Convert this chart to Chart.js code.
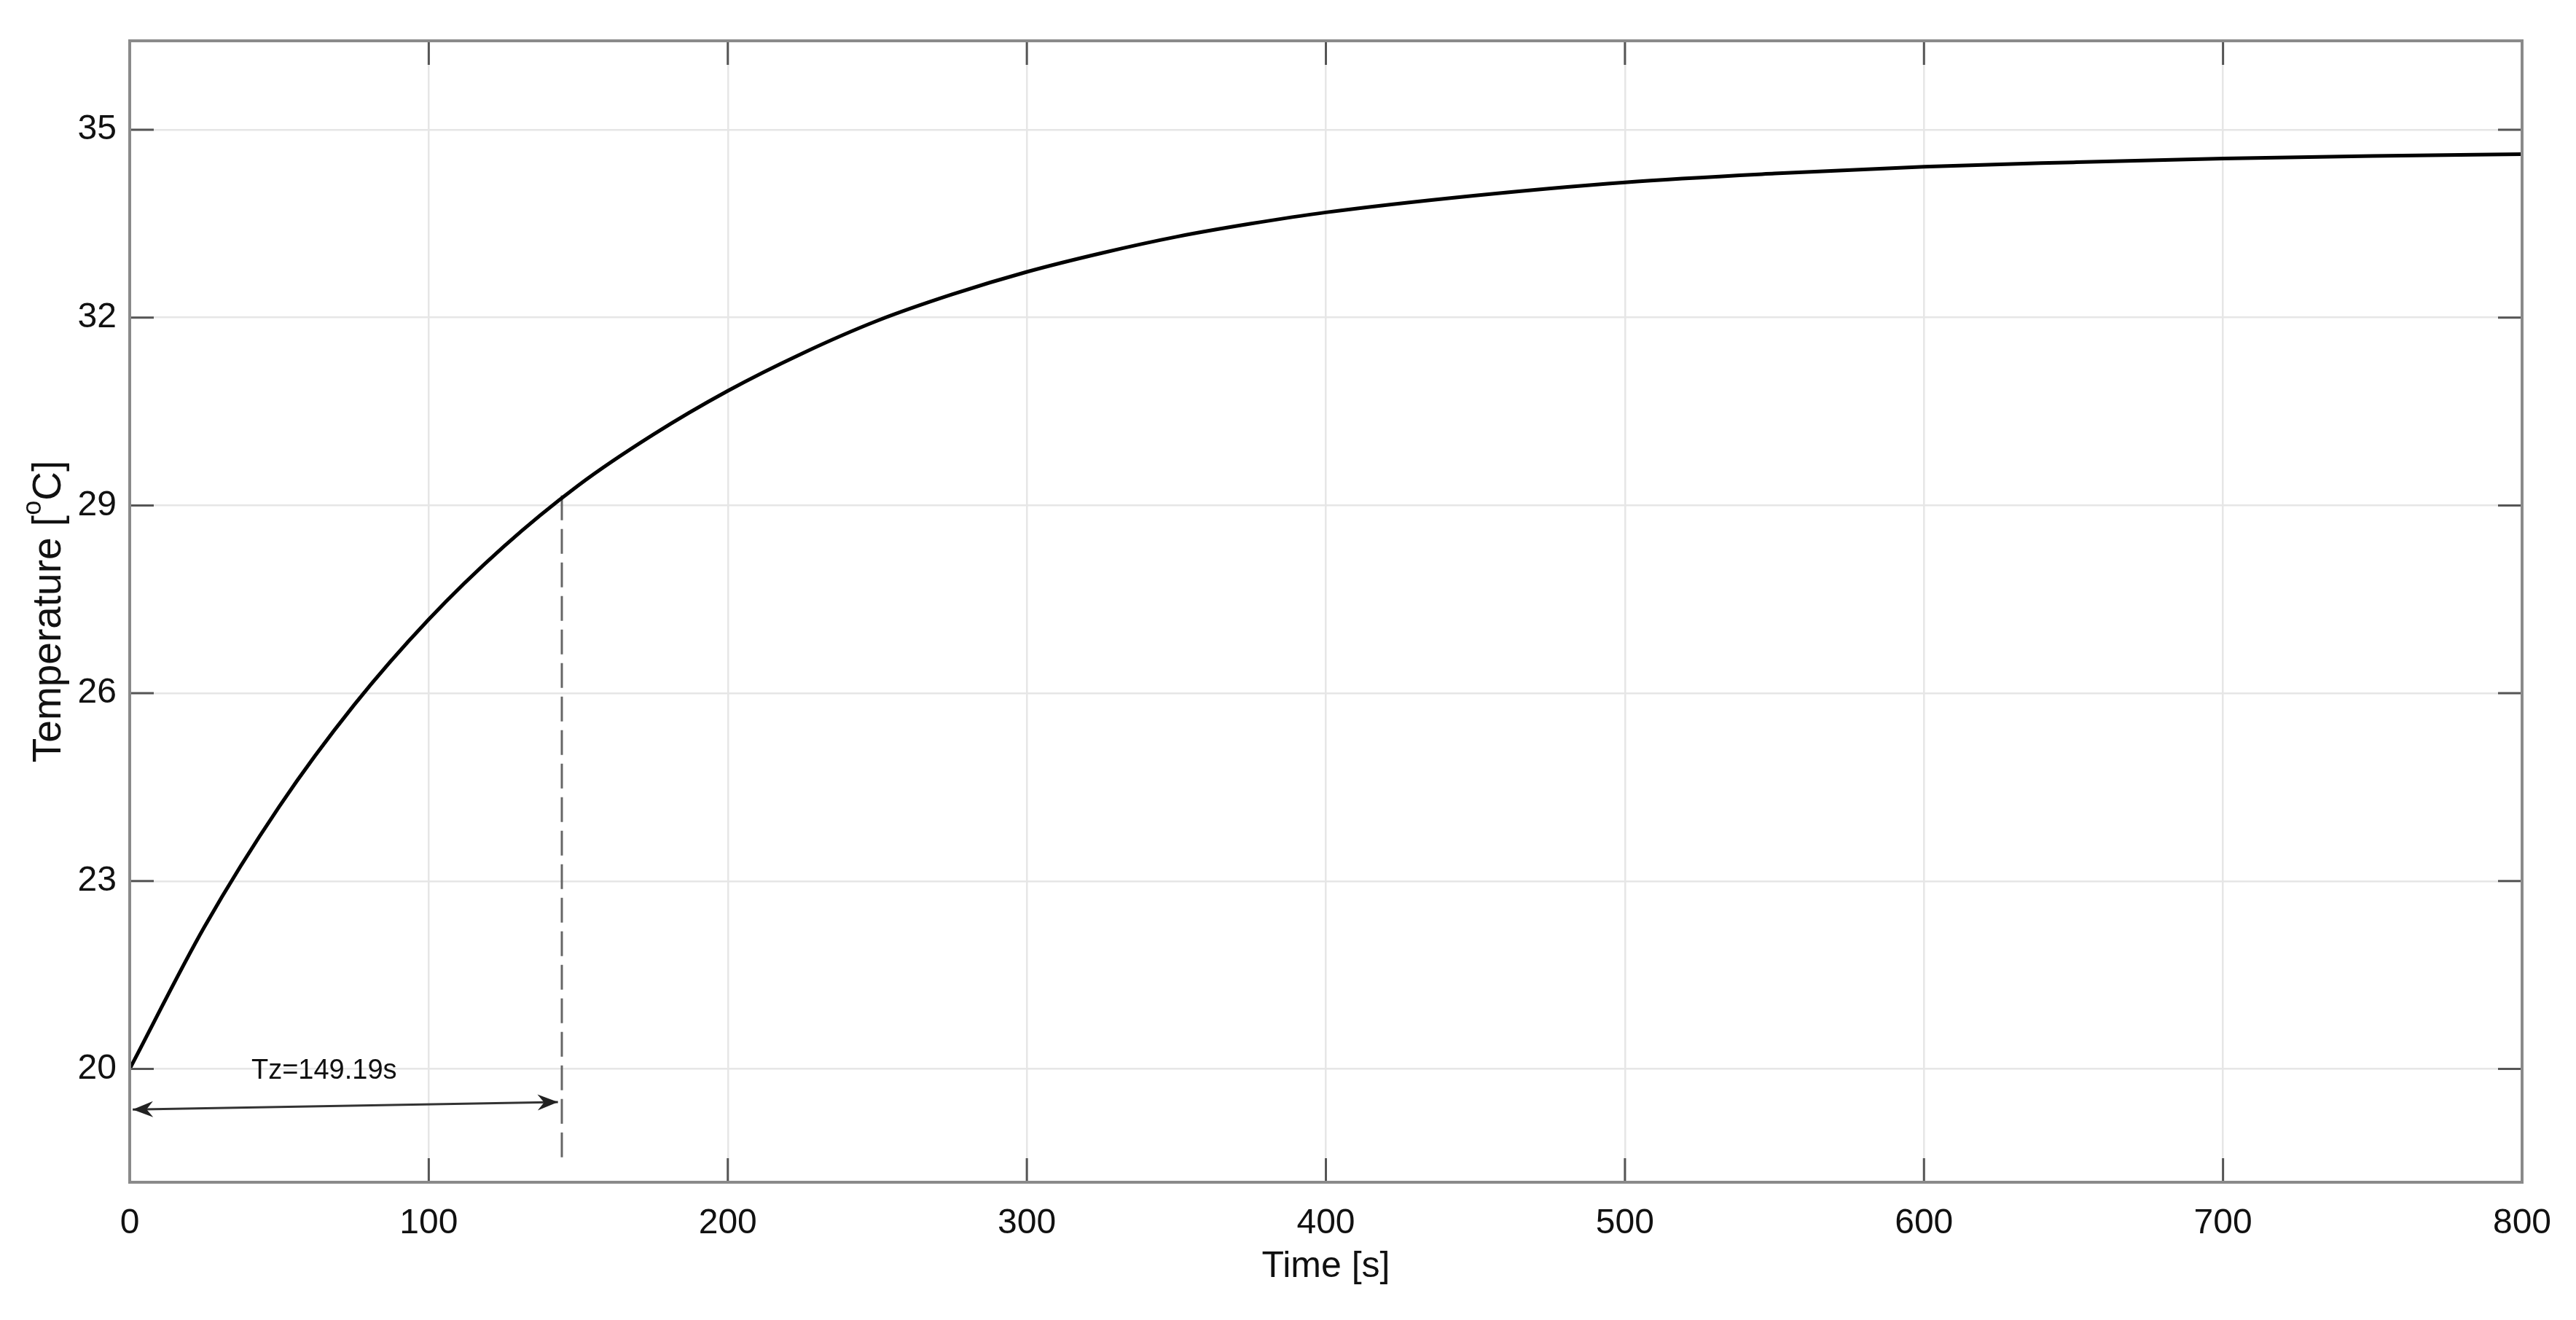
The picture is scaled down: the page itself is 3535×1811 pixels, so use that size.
<!DOCTYPE html>
<html>
<head>
<meta charset="utf-8">
<script src="https://cdn.jsdelivr.net/npm/chart.js@4.4.1/dist/chart.umd.min.js"></script>
<style>
html, body { margin: 0; padding: 0; background: #fff; }
canvas { display: block; }
</style>
</head>
<body>
<canvas id="tempChart" width="3535" height="1811"></canvas>
<script>
// values
var timeSec = [0, 25, 50, 75, 100, 125, 150, 175, 200, 225, 250, 275, 300, 325, 350, 375, 400, 450, 500, 550, 600, 650, 700, 750, 800];
var temperature = [20.0, 22.27, 24.19, 25.81, 27.18, 28.34, 29.32, 30.13, 30.83, 31.43, 31.95, 32.37, 32.73, 33.03, 33.29, 33.50, 33.68, 33.95, 34.16, 34.30, 34.41, 34.48, 34.54, 34.58, 34.61];

var xTicks = [0, 100, 200, 300, 400, 500, 600, 700, 800];
var yTicks = [20, 23, 26, 29, 32, 35];
var xRange = [0, 800];
var yRange = [18.19, 36.42];

// time-constant marker
var tzLineX = [144.5, 144.5];
var tzLineY = [18.59, 29.27];
var tzArrowX = [1, 143.2];
var tzArrowY = [19.35, 19.47];
var tzLabel = "Tz=149.19s";
var tzLabelX = 65;
var tzLabelY = 19.96;

var fontFamily = "'Liberation Sans', Arial, Helvetica, sans-serif";

function toPoints(xs, ys) {
    return xs.map(function(x, i) { return { x: x, y: ys[i] }; });
}

var matlabAxes = {
    id: "matlabAxes",
    afterDatasetsDraw: function(chart) {
        var ctx = chart.ctx;
        var area = chart.chartArea;
        var xs = chart.scales.x;
        var ys = chart.scales.y;
        ctx.save();

        // arrow heads on the Tz arrow
        var meta = chart.getDatasetMeta(2);
        var p0 = meta.data[0], p1 = meta.data[1];
        function head(tip, from) {
            var dx = tip.x - from.x, dy = tip.y - from.y;
            var len = Math.sqrt(dx * dx + dy * dy);
            dx /= len; dy /= len;
            var nx = -dy, ny = dx;
            var L = 28, W = 11, N = 9;
            ctx.beginPath();
            ctx.moveTo(tip.x, tip.y);
            ctx.lineTo(tip.x - dx * L + nx * W, tip.y - dy * L + ny * W);
            ctx.lineTo(tip.x - dx * (L - N), tip.y - dy * (L - N));
            ctx.lineTo(tip.x - dx * L - nx * W, tip.y - dy * L - ny * W);
            ctx.closePath();
            ctx.fillStyle = "#222";
            ctx.fill();
        }
        head(p0, p1);
        head(p1, p0);

        // annotation text
        ctx.fillStyle = "#111";
        ctx.font = "38px " + fontFamily;
        ctx.textAlign = "center";
        ctx.textBaseline = "middle";
        ctx.fillText(tzLabel, xs.getPixelForValue(tzLabelX), ys.getPixelForValue(tzLabelY));

        // inward tick marks
        ctx.strokeStyle = "#555";
        ctx.lineWidth = 3;
        var tl = 33;
        ctx.beginPath();
        yTicks.forEach(function(v) {
            var py = ys.getPixelForValue(v);
            ctx.moveTo(area.left, py); ctx.lineTo(area.left + tl, py);
            ctx.moveTo(area.right, py); ctx.lineTo(area.right - tl, py);
        });
        xTicks.forEach(function(v) {
            var px = xs.getPixelForValue(v);
            ctx.moveTo(px, area.bottom); ctx.lineTo(px, area.bottom - tl);
            ctx.moveTo(px, area.top); ctx.lineTo(px, area.top + tl);
        });
        ctx.stroke();

        // box
        ctx.strokeStyle = "#8a8a8a";
        ctx.lineWidth = 4;
        ctx.strokeRect(area.left, area.top, area.right - area.left, area.bottom - area.top);

        // x title
        ctx.fillStyle = "#111";
        ctx.font = "50px " + fontFamily;
        ctx.textAlign = "center";
        ctx.textBaseline = "middle";
        ctx.fillText("Time [s]", (area.left + area.right) / 2, area.bottom + 116);

        // y title with superscript o
        var big = "55px " + fontFamily, small = "36px " + fontFamily;
        var parts = [["Temperature [", big, 0], ["o", small, -22], ["C]", big, 0]];
        var total = 0;
        parts.forEach(function(p) { ctx.font = p[1]; total += ctx.measureText(p[0]).width; });
        ctx.translate(68, (area.top + area.bottom) / 2);
        ctx.rotate(-Math.PI / 2);
        ctx.textAlign = "left";
        var cx = -total / 2;
        parts.forEach(function(p) {
            ctx.font = p[1];
            ctx.fillText(p[0], cx, p[2]);
            cx += ctx.measureText(p[0]).width;
        });
        ctx.restore();
    }
};

var ctx1 = document.getElementById("tempChart").getContext("2d");
var myChart = new Chart(ctx1, {
    type: "line",
    data: {
        datasets: [
            {
                label: "Temperature",
                data: toPoints(timeSec, temperature),
                borderColor: "#000",
                borderWidth: 5,
                pointRadius: 0,
                cubicInterpolationMode: "monotone",
                fill: false
            },
            {
                label: "Tz line",
                data: toPoints(tzLineX, tzLineY),
                borderColor: "#666",
                borderWidth: 3,
                borderDash: [34, 12],
                pointRadius: 0,
                fill: false
            },
            {
                label: "Tz arrow",
                data: toPoints(tzArrowX, tzArrowY),
                borderColor: "#333",
                borderWidth: 3,
                pointRadius: 0,
                fill: false
            }
        ]
    },
    options: {
        responsive: false,
        devicePixelRatio: 1,
        animation: false,
        layout: { padding: { left: 0, top: 56, right: 74, bottom: 0 } },
        plugins: {
            legend: { display: false },
            tooltip: { enabled: false }
        },
        scales: {
            x: {
                type: "linear",
                min: xRange[0],
                max: xRange[1],
                afterBuildTicks: function(scale) {
                    scale.ticks = xTicks.map(function(v) { return { value: v }; });
                },
                afterFit: function(scale) { scale.height = 189; },
                ticks: {
                    color: "#111",
                    padding: 28,
                    maxRotation: 0,
                    font: { size: 48, family: fontFamily }
                },
                grid: { color: "#e6e6e6", lineWidth: 2.5, drawTicks: false },
                border: { display: false }
            },
            y: {
                type: "linear",
                min: yRange[0],
                max: yRange[1],
                afterBuildTicks: function(scale) {
                    scale.ticks = yTicks.map(function(v) { return { value: v }; });
                },
                afterFit: function(scale) { scale.width = 178; },
                ticks: {
                    color: "#111",
                    padding: 18,
                    font: { size: 48, family: fontFamily }
                },
                grid: { color: "#e6e6e6", lineWidth: 2.5, drawTicks: false },
                border: { display: false }
            }
        }
    },
    plugins: [matlabAxes]
});
</script>
</body>
</html>
